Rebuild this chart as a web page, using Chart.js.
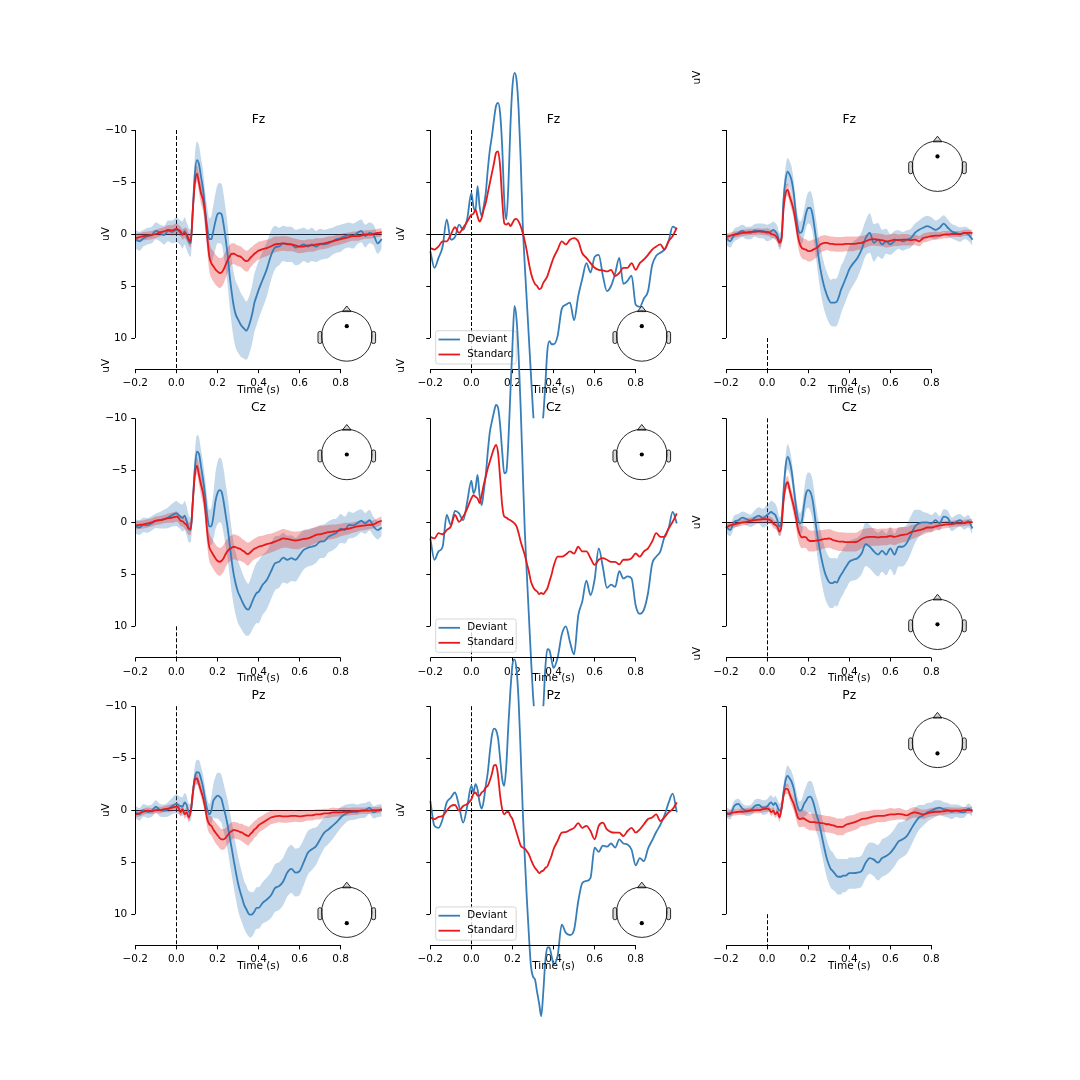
<!DOCTYPE html>
<html><head><meta charset="utf-8">
<script src="https://cdn.jsdelivr.net/npm/chart.js@4.4.0/dist/chart.umd.min.js"></script>
<style>
html,body{margin:0;padding:0;background:#fff;}
#wrap{position:relative;width:1080px;height:1080px;overflow:hidden;background:#fff;}
#wrap canvas{position:absolute;left:0;top:0;}
</style></head><body><div id="wrap"></div>
<script>
// ---------- DATA ----------
const conditions = ['Deviant', 'Standard'];
const channels = ['Fz', 'Cz', 'Pz'];
const xTicks = [-0.2, 0, 0.2, 0.4, 0.6, 0.8];
const xTickLabels = ['\u22120.2', '0.0', '0.2', '0.4', '0.6', '0.8'];
const yTicks = [-10, -5, 0, 5, 10];
const yTickLabels = ['\u221210', '\u22125', '0', '5', '10'];
const xRange = [-0.2, 1.0];
const yRange = [-10, 13];
const xLabel = 'Time (s)';
const yLabel = 'uV';

const times = [
-0.2,-0.18,-0.16,-0.14,-0.12,-0.1,-0.08,-0.06,-0.04,-0.02,
0,0.01,0.02,0.03,0.04,0.05,0.06,0.07,0.08,0.09,
0.1,0.11,0.12,0.13,0.14,0.15,0.16,0.17,0.18,0.19,
0.2,0.21,0.22,0.23,0.24,0.25,0.26,0.27,0.28,0.29,
0.3,0.31,0.32,0.33,0.34,0.35,0.36,0.37,0.38,0.39,0.4,
0.42,0.44,0.46,0.48,0.5,0.52,0.54,0.56,0.58,0.6,
0.62,0.64,0.66,0.68,0.7,0.72,0.74,0.76,0.78,0.8,
0.82,0.84,0.86,0.88,0.9,0.92,0.94,0.96,0.98,1.0];

// Fz, left column (with confidence bands)
const fzL_dev = [
0.5,0.7,0.4,0.2,0.1,-0.3,-0.1,0.1,-0.3,-0.2,
-0.4,-0.3,-0.1,0.1,-0.3,0.2,0.7,0.9,-2.3,-5.8,
-7.1,-6.7,-5.5,-4.3,-2.3,-0.7,0.5,0.5,-0.3,-1.2,
-1.9,-2.0,-1.9,-0.9,0.5,2.1,4.1,5.7,7.0,7.8,
8.2,8.6,8.9,9.1,9.3,9.0,8.4,7.6,6.6,6.0,5.4,
4.4,3.4,2.1,1.3,1.2,0.9,1.0,1.0,1.3,1.2,
1.0,1.2,1.0,1.2,1.0,1.0,0.9,0.7,0.5,0.4,
0.2,0.1,0.2,-0.1,-0.3,0.2,-0.1,0.1,0.9,0.5];
const fzL_devCI = [
0.9,0.9,0.8,0.8,0.8,0.8,0.8,0.9,1.0,1.1,
1.2,1.2,1.2,1.3,1.3,1.3,1.3,1.3,1.5,1.7,
1.8,1.8,1.8,1.8,1.8,1.9,2.0,2.2,2.5,2.7,
2.8,2.9,2.9,2.9,2.9,2.9,3.0,3.1,3.2,3.2,
3.2,3.1,3.0,2.9,2.8,2.8,2.8,2.8,2.8,2.8,2.8,
2.7,2.6,2.4,2.1,1.8,1.7,1.7,1.7,1.7,1.7,
1.6,1.6,1.6,1.5,1.5,1.4,1.4,1.3,1.3,1.3,
1.2,1.2,1.2,1.1,1.1,1.1,1.0,1.0,1.0,0.9];
const fzL_std = [
0.4,0.3,0.2,0.15,0.1,0,-0.15,-0.25,-0.4,-0.35,
-0.5,-0.4,-0.25,0.05,-0.1,0.05,0.5,0.7,-2.3,-4.9,
-5.8,-4.9,-3.9,-3.3,-2.0,0.2,2.1,2.8,3.1,3.4,
3.6,3.75,3.7,3.4,2.95,2.5,2.15,1.9,1.9,2.0,
2.1,2.15,2.3,2.5,2.6,2.55,2.3,2.1,1.9,1.75,1.6,
1.45,1.35,1.2,1.0,0.95,0.9,0.95,1.0,1.1,1.2,
1.2,1.1,1.1,1.0,0.95,0.9,0.8,0.7,0.6,0.5,
0.4,0.3,0.2,0.2,0.15,0.05,0.05,0,-0.1,-0.15];
const fzL_stdCI = [
0.4,0.4,0.4,0.4,0.4,0.4,0.4,0.4,0.45,0.5,
0.5,0.5,0.5,0.5,0.5,0.6,0.6,0.6,0.7,0.8,
0.8,0.9,1.0,1.1,1.2,1.3,1.4,1.4,1.45,1.45,
1.45,1.45,1.4,1.35,1.3,1.2,1.1,1.0,1.0,1.0,
1.0,1.0,1.0,1.0,1.0,1.0,0.95,0.9,0.9,0.85,0.85,
0.8,0.8,0.75,0.75,0.7,0.7,0.7,0.65,0.65,0.65,
0.6,0.6,0.6,0.6,0.55,0.55,0.55,0.5,0.5,0.5,
0.5,0.45,0.45,0.45,0.4,0.4,0.4,0.4,0.4,0.4];

// Fz, right column
const fzR_dev = [
0.4,0.7,0.1,-0.1,-0.3,-0.1,-0.1,-0.35,-0.3,-0.3,
-0.1,-0.15,-0.25,-0.4,-0.25,0.05,0.7,0.4,-3.3,-5.2,
-6.0,-5.7,-5.1,-3.9,-2.0,-0.6,-0.1,-0.25,-1.05,-2.0,
-2.5,-2.5,-2.0,-0.75,0.7,2.15,3.4,4.4,5.2,5.8,
6.3,6.6,6.6,6.6,6.5,6.0,5.35,4.9,4.4,3.9,3.4,
2.8,2.3,1.5,0.4,-0.1,0.85,0.55,1.0,0.7,1.0,
0.7,0.55,0.7,0.55,0.4,-0.1,-0.4,-0.6,-0.75,-0.6,
-0.4,-0.6,-1.0,-0.6,-0.25,-0.1,0.05,-0.1,0.05,0.55];
const fzR_devCI = [
0.6,0.6,0.6,0.6,0.6,0.6,0.6,0.6,0.7,0.7,
0.8,0.8,0.8,0.8,0.8,0.8,0.8,0.8,1.0,1.2,
1.3,1.3,1.3,1.2,1.1,1.1,1.1,1.2,1.3,1.4,
1.5,1.6,1.7,1.8,1.9,2.0,2.1,2.2,2.2,2.2,
2.2,2.2,2.3,2.3,2.3,2.3,2.3,2.2,2.2,2.2,2.2,
2.1,1.9,1.7,1.7,1.9,1.8,1.6,1.4,1.2,1.0,
1.0,0.9,0.9,0.9,0.9,0.9,0.9,1.0,1.0,1.0,
0.9,0.9,0.8,0.8,0.7,0.7,0.7,0.6,0.6,0.6];
const fzR_std = [
0.3,0.15,0.05,0,-0.1,-0.15,-0.2,-0.2,-0.25,-0.2,
-0.2,-0.15,0,0.05,0.15,0.4,0.85,0.55,-2.35,-3.9,
-4.25,-3.6,-3.0,-2.2,-1.05,0.2,1.0,1.35,1.45,1.5,
1.65,1.65,1.55,1.45,1.35,1.2,1.0,0.9,0.85,0.85,
0.9,0.95,0.95,1.0,1.0,1.0,1.0,1.0,0.95,0.95,0.95,
0.95,0.9,0.85,0.7,0.55,0.5,0.55,0.6,0.7,0.65,
0.55,0.6,0.55,0.55,0.6,0.55,0.7,0.4,0.3,0.2,
0.15,0.15,0.05,0.05,0,0,0,-0.1,-0.1,-0.1];
const fzR_stdCI = [
0.3,0.3,0.3,0.3,0.3,0.3,0.3,0.3,0.3,0.3,
0.35,0.35,0.35,0.35,0.35,0.4,0.4,0.45,0.5,0.6,
0.6,0.65,0.7,0.75,0.8,0.9,0.95,1.0,1.0,1.0,
1.0,1.0,1.0,0.95,0.9,0.85,0.8,0.75,0.75,0.7,
0.7,0.7,0.7,0.7,0.7,0.7,0.7,0.7,0.7,0.7,0.7,
0.7,0.65,0.65,0.6,0.6,0.6,0.6,0.6,0.6,0.6,
0.6,0.55,0.55,0.55,0.5,0.5,0.5,0.45,0.45,0.4,
0.4,0.35,0.35,0.35,0.3,0.3,0.3,0.3,0.3,0.3];

// Cz, left column
const czL_dev = [
0.4,0.5,0.25,0.3,0.1,-0.15,-0.2,-0.3,-0.45,-0.7,
-0.85,-0.7,-0.55,-0.4,-0.65,-0.15,0.6,0.75,-2.0,-5.2,
-6.8,-6.6,-5.35,-4.1,-2.6,-0.7,0.4,0.4,-0.55,-2.0,
-2.8,-3.1,-2.95,-2.0,-0.7,0.6,2.2,3.8,5.1,6.0,
6.7,7.15,7.6,8.0,8.3,8.4,8.1,7.6,7.15,6.8,6.7,
6.0,5.55,4.75,3.95,3.8,3.4,3.6,3.45,3.6,3.15,
2.65,2.45,2.35,2.2,1.85,1.8,1.4,1.2,1.0,0.6,
0.75,0.25,0.3,0.1,-0.15,0.1,-0.2,0.4,0.75,0.5];
const czL_devCI = [
0.7,0.7,0.7,0.7,0.7,0.7,0.8,0.9,1.0,1.1,
1.2,1.2,1.2,1.3,1.4,1.4,1.3,1.2,1.3,1.5,
1.6,1.6,1.6,1.6,1.6,1.6,1.6,1.8,2.2,2.7,
3.0,3.1,3.1,3.1,3.0,3.0,3.0,3.0,3.0,3.0,
3.0,2.9,2.8,2.7,2.6,2.5,2.6,2.7,2.8,2.9,3.0,
2.9,2.8,2.7,2.6,2.5,2.4,2.3,2.2,2.1,2.0,
1.9,1.8,1.8,1.7,1.6,1.6,1.5,1.5,1.4,1.4,
1.3,1.3,1.2,1.2,1.1,1.0,1.0,0.9,0.9,0.8];
const czL_std = [
0.3,0.25,0.2,0.1,0,-0.15,-0.2,-0.3,-0.4,-0.45,
-0.55,-0.45,-0.15,-0.1,0.1,0.25,0.6,0.6,-2.0,-4.55,
-5.45,-4.55,-3.6,-2.8,-1.35,0.9,2.35,2.8,3.15,3.45,
3.7,3.8,3.7,3.45,3.05,2.75,2.55,2.45,2.35,2.4,
2.5,2.55,2.7,2.8,3.0,3.05,2.9,2.7,2.55,2.45,2.35,
2.25,2.1,2.0,1.85,1.7,1.55,1.6,1.7,1.75,1.7,
1.6,1.55,1.4,1.2,1.15,1.05,0.95,0.9,0.85,0.75,
0.65,0.6,0.5,0.4,0.35,0.3,0.25,0.2,0,-0.15];
const czL_stdCI = [
0.4,0.4,0.4,0.4,0.4,0.4,0.4,0.4,0.45,0.5,
0.5,0.5,0.5,0.5,0.5,0.6,0.6,0.6,0.7,0.8,
0.8,0.9,1.0,1.1,1.2,1.3,1.35,1.35,1.35,1.35,
1.35,1.35,1.3,1.3,1.25,1.2,1.2,1.2,1.2,1.2,
1.2,1.15,1.1,1.1,1.1,1.1,1.05,1.0,1.0,1.0,1.0,
0.95,0.95,0.9,0.9,0.9,0.9,0.85,0.85,0.85,0.85,
0.8,0.8,0.8,0.8,0.8,0.75,0.7,0.7,0.65,0.6,
0.6,0.55,0.5,0.5,0.45,0.45,0.4,0.4,0.4,0.4];

// Cz, right column
const czR_dev = [
0.4,0.75,-0.05,-0.2,-0.45,-0.3,-0.15,-0.45,-0.65,-0.4,
-0.7,-0.85,-1.0,-0.85,-0.7,-0.2,0.4,-0.05,-2.95,-5.35,
-6.3,-5.85,-4.85,-3.25,-1.65,-0.4,0.1,-0.2,-1.65,-2.8,
-3.1,-2.95,-2.3,-1.0,0.6,1.85,3.0,3.95,4.75,5.3,
5.7,5.85,5.85,5.7,5.8,5.4,5.05,4.75,4.4,4.1,3.8,
3.6,3.45,3.0,2.1,2.35,2.8,3.1,2.75,3.1,2.5,
3.1,2.35,2.35,2.0,1.2,0.4,0.1,0,0,0.1,
-0.2,0.1,-0.55,-0.4,0.2,-0.05,-0.2,0.1,-0.1,0.6];
const czR_devCI = [
0.6,0.6,0.6,0.6,0.6,0.6,0.6,0.7,0.8,0.9,
1.0,1.0,1.1,1.1,1.1,1.1,0.9,0.8,0.9,1.0,
1.2,1.2,1.1,1.0,1.0,1.0,1.0,1.2,1.4,1.6,
1.7,1.8,1.9,1.9,2.0,2.1,2.2,2.3,2.4,2.4,
2.4,2.4,2.4,2.3,2.3,2.3,2.2,2.2,2.1,2.1,2.0,
2.0,2.0,2.0,2.1,2.1,2.1,2.1,2.0,2.0,2.0,
2.0,1.9,1.9,1.8,1.8,1.6,1.3,1.0,0.9,0.8,
0.8,0.7,0.7,0.7,0.65,0.65,0.6,0.6,0.6,0.6];
const czR_std = [
0.5,0.3,0.2,0.1,0,-0.05,-0.15,-0.2,-0.25,-0.3,
-0.3,-0.25,-0.15,0.1,0.25,0.4,0.9,0.4,-2.0,-3.45,
-3.85,-3.1,-2.3,-1.5,-0.55,0.6,1.2,1.45,1.4,1.45,
1.7,1.8,1.8,1.8,1.75,1.75,1.7,1.65,1.6,1.6,
1.55,1.6,1.7,1.75,1.8,1.85,1.85,1.85,1.9,1.9,1.9,
1.9,1.85,1.6,1.45,1.4,1.4,1.45,1.4,1.4,1.3,
1.4,1.3,1.2,1.15,0.95,0.85,0.75,0.65,0.5,0.5,
0.4,0.3,0.25,0.2,0.15,0.1,0.1,0.05,0,-0.05];
const czR_stdCI = [
0.3,0.3,0.3,0.3,0.3,0.3,0.3,0.3,0.3,0.35,
0.35,0.35,0.35,0.4,0.4,0.4,0.45,0.5,0.55,0.6,
0.6,0.65,0.7,0.8,0.9,1.0,1.05,1.05,1.05,1.05,
1.05,1.0,1.0,1.0,0.95,0.95,0.95,0.9,0.9,0.9,
0.9,0.9,0.9,0.9,0.9,0.9,0.9,0.9,0.9,0.9,0.9,
0.9,0.9,0.9,0.85,0.85,0.85,0.8,0.8,0.8,0.8,
0.8,0.75,0.75,0.7,0.7,0.65,0.6,0.55,0.5,0.45,
0.4,0.4,0.35,0.35,0.3,0.3,0.3,0.3,0.3,0.3];

// Pz, left column
const pzL_dev = [
0.2,0.4,0,0.15,0.05,-0.35,0,0.05,-0.1,-0.4,
-0.6,-0.5,-0.4,-0.35,-0.75,-0.5,0.15,0.2,-1.55,-3.15,
-3.65,-3.6,-3.0,-2.2,-1.05,-0.1,0.4,0.05,-0.9,-1.2,
-1.4,-1.3,-1.05,-0.25,0.55,1.5,2.65,3.75,4.9,6.0,
7.0,7.8,8.45,9.1,9.5,9.9,10.05,10.0,9.75,9.4,9.4,
8.9,8.6,8.2,7.5,7.3,6.85,6.0,5.65,6.0,5.85,
5.0,4.1,3.75,3.45,2.8,2.15,1.85,1.5,1.15,0.7,
0.4,0.2,0.15,0.15,0.05,0,-0.25,0.2,0.05,0];
const pzL_devCI = [
0.6,0.6,0.6,0.6,0.6,0.6,0.6,0.6,0.7,0.8,
0.9,0.9,0.9,0.9,0.9,0.9,0.8,0.8,0.9,1.1,
1.2,1.2,1.2,1.2,1.1,1.0,1.0,1.3,1.6,2.0,
2.2,2.3,2.3,2.3,2.3,2.4,2.5,2.6,2.6,2.6,
2.6,2.5,2.4,2.3,2.3,2.2,2.2,2.1,2.0,2.0,2.0,
2.0,2.1,2.2,2.3,2.3,2.3,2.3,2.3,2.3,2.3,
2.2,2.1,2.0,1.8,1.6,1.5,1.4,1.3,1.1,1.0,
0.9,0.8,0.8,0.7,0.7,0.7,0.6,0.6,0.6,0.6];
const pzL_std = [
0.4,0.3,0.15,0.05,0.1,0,0,-0.1,-0.15,-0.25,
-0.35,-0.25,0.2,-0.1,0.4,0.2,0.7,0.05,-1.7,-2.95,
-3.05,-2.5,-1.85,-1.2,-0.25,0.85,1.35,1.5,1.85,2.15,
2.4,2.65,2.8,2.8,2.65,2.4,2.15,2.0,1.9,1.95,
2.0,2.1,2.15,2.3,2.4,2.5,2.3,2.1,1.85,1.7,1.45,
1.2,0.95,0.7,0.6,0.55,0.6,0.6,0.55,0.55,0.6,
0.55,0.5,0.5,0.4,0.4,0.3,0.3,0.2,0.2,0.2,
0.15,0.15,0.1,0.1,0.05,0.05,0.05,0,0,-0.1];
const pzL_stdCI = [
0.3,0.3,0.3,0.3,0.3,0.3,0.3,0.3,0.35,0.35,
0.4,0.4,0.4,0.4,0.4,0.45,0.45,0.45,0.5,0.5,
0.5,0.55,0.6,0.65,0.7,0.8,0.85,0.9,0.95,1.0,
1.0,1.0,1.0,1.0,0.95,0.9,0.85,0.85,0.8,0.8,
0.8,0.8,0.85,0.85,0.9,0.9,0.85,0.85,0.8,0.8,0.75,
0.7,0.7,0.65,0.65,0.6,0.6,0.6,0.6,0.55,0.55,
0.55,0.5,0.5,0.5,0.5,0.45,0.45,0.45,0.4,0.4,
0.4,0.35,0.35,0.35,0.3,0.3,0.3,0.3,0.3,0.3];

// Pz, right column
const pzR_dev = [
0.2,0.4,-0.4,-0.6,-0.15,0.05,0,-0.4,-0.5,-0.25,
-0.35,-0.6,-0.75,-0.5,-0.7,-0.35,0.05,-0.15,-1.7,-2.85,
-3.3,-3.05,-2.7,-2.05,-1.05,-0.25,0.05,-0.1,-0.6,-0.9,
-1.25,-1.3,-1.05,-0.4,0.4,1.0,1.85,2.8,3.75,4.6,
5.2,5.65,5.85,6.1,6.35,6.4,6.4,6.3,6.3,6.2,6.05,
6.05,6.0,5.85,5.05,4.6,4.75,5.05,4.6,4.4,4.1,
3.6,3.0,2.8,2.5,1.85,1.2,0.7,0.5,0.2,0.05,
-0.15,-0.25,-0.1,0,0.15,0.05,0.15,0.2,-0.15,0.15];
const pzR_devCI = [
0.5,0.5,0.5,0.5,0.5,0.5,0.5,0.6,0.6,0.7,
0.7,0.7,0.7,0.7,0.7,0.7,0.7,0.7,0.8,0.9,
1.0,1.0,1.0,1.0,1.0,0.9,0.9,1.0,1.2,1.4,
1.5,1.5,1.6,1.6,1.7,1.7,1.8,1.8,1.8,1.8,
1.8,1.8,1.8,1.7,1.7,1.7,1.7,1.6,1.6,1.5,1.5,
1.5,1.5,1.5,1.5,1.5,1.6,1.7,1.8,1.8,1.8,
1.8,1.8,1.7,1.7,1.6,1.4,1.2,1.0,0.9,0.8,
0.8,0.7,0.7,0.7,0.7,0.6,0.6,0.5,0.5,0.5];
const pzR_std = [
0.4,0.3,0.2,0.15,0.15,0.1,0.05,0,0,-0.1,
-0.15,-0.1,0.2,0.05,0.4,0.15,0.7,-0.1,-1.4,-2.05,
-2.05,-1.55,-1.05,-0.6,0.05,0.7,0.85,0.8,0.8,0.95,
1.05,1.15,1.15,1.15,1.2,1.2,1.25,1.25,1.3,1.35,
1.35,1.4,1.45,1.5,1.6,1.6,1.6,1.6,1.45,1.35,1.3,
1.2,1.05,0.85,0.8,0.7,0.6,0.55,0.55,0.5,0.4,
0.4,0.35,0.4,0.5,0.3,0.2,0.3,0.4,0.3,0.2,
0.15,0.15,0.1,0.05,0.05,0.05,0.05,0,0,0];
const pzR_stdCI = [
0.3,0.3,0.3,0.3,0.3,0.3,0.3,0.3,0.3,0.3,
0.3,0.3,0.35,0.35,0.35,0.4,0.4,0.4,0.45,0.5,
0.5,0.55,0.6,0.65,0.7,0.75,0.8,0.8,0.8,0.8,
0.8,0.8,0.8,0.8,0.8,0.8,0.8,0.8,0.8,0.8,
0.8,0.8,0.8,0.8,0.8,0.8,0.8,0.8,0.8,0.8,0.8,
0.75,0.75,0.7,0.7,0.65,0.65,0.6,0.6,0.6,0.6,
0.55,0.55,0.5,0.5,0.5,0.5,0.45,0.45,0.4,0.4,
0.4,0.35,0.35,0.35,0.3,0.3,0.3,0.3,0.3,0.3];

// Middle column (no bands, unclipped)
const fzM_dev = [
1.65,3.25,2.3,1.2,-1.4,0.55,0.3,-0.9,-0.4,-1.5,
-3.95,-2.65,-2.2,-4.6,-2.65,-1.7,-2.65,-3.95,-6.2,-8.1,
-9.4,-11.0,-12.3,-12.6,-11.6,-8.4,-3.3,-1.4,-4.6,-10.35,
-14.2,-15.5,-14.8,-12.0,-7.15,-1.0,3.0,6.5,10.0,13.5,
17.0,19.5,20.5,20.5,19.5,17.5,14.5,11.2,10.3,10.6,10.6,
9.8,7.2,6.8,6.6,8.3,6.0,4.3,2.8,3.7,2.2,
2.0,4.0,5.5,5.0,3.8,2.3,4.8,4.5,4.0,6.8,
7.0,6.2,5.5,3.0,2.1,1.8,1.5,0.7,-0.7,-0.5];
const fzM_std = [
1.35,1.5,1.2,0.7,0.7,0.05,-0.65,-0.1,-0.6,-1.2,
-1.85,-1.95,-2.35,-1.7,-1.2,-1.55,-2.35,-3.0,-3.95,-4.9,
-5.85,-6.8,-7.8,-7.95,-6.5,-3.3,-1.05,-0.9,-1.05,-0.75,
-1.05,-1.4,-1.45,-1.2,-0.75,-0.1,0.7,1.65,2.8,3.75,
4.4,4.8,5.0,5.3,5.2,4.7,4.4,4.05,3.45,2.85,2.3,
1.5,0.7,1.0,0.55,0.4,0.7,1.85,2.3,2.8,3.25,
3.45,3.5,3.6,3.45,4.05,3.75,3.25,3.25,2.8,3.45,
2.8,2.45,2.0,1.5,1.2,1.0,1.5,0.7,0.2,-0.6];
const czM_dev = [
1.55,3.6,2.8,2.35,-0.7,0.25,-1.1,-0.85,-0.2,-2.0,
-4.0,-2.8,-3.25,-4.55,-2.6,-1.65,-2.95,-4.55,-6.8,-8.7,
-9.7,-10.6,-11.3,-11.0,-9.35,-6.8,-4.7,-4.85,-7.75,-12.5,
-17.0,-20.8,-19.5,-16.0,-11.0,-5.0,0.8,5.0,9.0,13.0,
16.6,19.0,20.5,20.5,19.5,17.8,14.0,12.2,12.3,13.2,14.0,
13.0,10.8,10.0,11.5,12.7,9.0,7.6,5.6,7.0,5.5,
2.5,4.3,6.3,6.0,6.2,4.7,5.4,5.2,5.4,8.0,
8.8,8.4,6.8,4.0,3.3,2.8,1.4,0.6,-1.0,0.1];
const czM_std = [
1.4,1.55,1.05,1.15,0.75,0.4,-0.7,-0.05,-0.55,-1.35,
-2.3,-2.6,-2.45,-2.3,-1.85,-2.6,-3.6,-4.4,-5.2,-5.85,
-6.5,-7.1,-7.45,-6.65,-4.25,-1.65,-0.55,-0.45,-0.3,-0.2,
-0.05,0.1,0.4,1.05,1.85,2.5,3.15,3.95,4.75,5.7,
6.2,6.5,6.65,6.9,6.8,6.9,6.65,6.35,5.7,5.05,4.25,
3.3,3.3,3.1,2.8,3.0,2.35,2.8,2.8,3.45,4.1,
3.6,3.45,3.6,3.8,3.8,4.05,3.6,3.6,3.45,3.0,
3.3,2.8,2.5,1.85,1.05,1.4,1.4,0.6,-0.05,-0.85];
const pzM_dev = [
-0.9,1.5,1.7,0.85,-0.75,-1.2,-1.7,-0.4,1.2,-0.4,
-2.35,-1.7,-2.5,-2.0,-0.75,-0.15,-0.9,-2.35,-3.65,-5.6,
-7.2,-7.85,-7.7,-6.9,-4.95,-3.0,-2.35,-4.3,-8.15,-11.5,
-14.0,-14.5,-13.5,-10.5,-5.5,0,4.5,8.5,12.0,15.0,
16.0,16.3,17.5,18.6,19.8,17.5,14.5,13.2,13.2,14.0,14.8,
14.0,11.0,11.8,12.0,11.5,8.8,7.0,6.8,6.5,3.6,
4.0,3.4,3.5,3.2,3.6,2.8,3.2,3.3,3.8,5.3,
4.6,4.9,3.7,2.9,2.1,1.4,0.5,-0.7,-1.6,0.2];
const pzM_std = [
0.7,0.85,0.65,0.55,0.05,-0.4,-0.5,0.05,-0.4,-0.6,
-1.05,-1.55,-1.7,-1.4,-1.4,-1.7,-1.85,-2.2,-2.35,-2.85,
-3.5,-4.3,-4.35,-3.3,-1.4,-0.1,0.4,0.2,0.15,0.55,
0.85,1.5,2.15,2.8,3.4,3.6,3.7,3.95,4.25,4.75,
5.2,5.55,5.8,6.05,5.9,5.8,5.55,5.4,4.9,4.4,3.75,
2.95,2.15,2.1,1.9,1.7,1.25,1.7,1.5,2.0,2.8,
1.5,1.2,1.85,2.1,2.15,2.15,2.5,2.0,1.7,2.15,
1.85,1.35,0.85,0.7,0.4,1.05,0.7,0.2,-0.1,-0.75];

// ---------- LAYOUT / STYLE ----------
const BLUE = '#377eb8', RED = '#e41a1c';
const BLUE_A = 'rgba(55,126,184,0.3)', RED_A = 'rgba(228,26,28,0.3)';
const FONT = "'DejaVu Sans', 'Liberation Sans', sans-serif";
const colLeft = [135.3, 430.3, 726.0];
const rowTop = [130.0, 418.3, 706.2];
const pxPerSec = 205.4, pxPerUV = 10.4;
const dotOffset = [-9.8, 0, 11];
const Y_AXIS_W = 40, X_AXIS_H = 30;

const panels = [
  {row:0,col:0,dev:fzL_dev,devCI:fzL_devCI,std:fzL_std,stdCI:fzL_stdCI,normal:true},
  {row:0,col:1,dev:fzM_dev,std:fzM_std,normal:true,legend:true},
  {row:0,col:2,dev:fzR_dev,devCI:fzR_devCI,std:fzR_std,stdCI:fzR_stdCI,normal:false},
  {row:1,col:0,dev:czL_dev,devCI:czL_devCI,std:czL_std,stdCI:czL_stdCI,normal:false},
  {row:1,col:1,dev:czM_dev,std:czM_std,normal:false,legend:true},
  {row:1,col:2,dev:czR_dev,devCI:czR_devCI,std:czR_std,stdCI:czR_stdCI,normal:true},
  {row:2,col:0,dev:pzL_dev,devCI:pzL_devCI,std:pzL_std,stdCI:pzL_stdCI,normal:true},
  {row:2,col:1,dev:pzM_dev,std:pzM_std,normal:true,legend:true},
  {row:2,col:2,dev:pzR_dev,devCI:pzR_devCI,std:pzR_std,stdCI:pzR_stdCI,normal:false}
];

function rrect(ctx, x, y, w, h, r) {
  ctx.beginPath();
  ctx.moveTo(x + r, y);
  ctx.arcTo(x + w, y, x + w, y + h, r);
  ctx.arcTo(x + w, y + h, x, y + h, r);
  ctx.arcTo(x, y + h, x, y, r);
  ctx.arcTo(x, y, x + w, y, r);
  ctx.closePath();
}
function al(v) { return Math.round(v - 0.5) + 0.5; }

function drawHead(ctx, cx, cy, dy) {
  const r = 25.2;
  ctx.save();
  ctx.lineWidth = 0.9;
  ctx.strokeStyle = '#111';
  ctx.fillStyle = '#d9d9d9';
  rrect(ctx, cx - r - 3.6, cy - 4.5, 4, 12, 1.8); ctx.fill(); ctx.stroke();
  rrect(ctx, cx + r - 0.4, cy - 4.5, 4, 12, 1.8); ctx.fill(); ctx.stroke();
  ctx.beginPath();
  ctx.moveTo(cx - 4.4, cy - r + 0.8);
  ctx.lineTo(cx, cy - r - 4.8);
  ctx.lineTo(cx + 4.4, cy - r + 0.8);
  ctx.closePath();
  ctx.fillStyle = '#d9d9d9'; ctx.fill(); ctx.stroke();
  ctx.beginPath();
  ctx.arc(cx, cy, r, 0, Math.PI * 2);
  ctx.stroke();
  ctx.beginPath();
  ctx.arc(cx, cy + dy, 2.1, 0, Math.PI * 2);
  ctx.fillStyle = '#000'; ctx.fill();
  ctx.restore();
}

const decor = {
  id: 'decor',
  beforeDraw(chart) {
    const {ctx, chartArea: a} = chart;
    ctx.save();
    ctx.fillStyle = '#fff';
    ctx.fillRect(a.left, a.top, a.right - a.left, a.bottom - a.top);
    ctx.restore();
  },
  beforeDatasetsDraw(chart, args, o) {
    const {ctx, chartArea: a, scales: {x, y}} = chart;
    ctx.save();
    ctx.strokeStyle = '#000';
    ctx.lineWidth = 1;
    if (o.normal) {
      const y0 = al(y.getPixelForValue(0));
      ctx.beginPath(); ctx.moveTo(a.left, y0); ctx.lineTo(a.right, y0); ctx.stroke();
    }
    const vx = al(x.getPixelForValue(0));
    const vTop = o.normal ? a.top : y.getPixelForValue(yTicks[yTicks.length - 1]);
    ctx.setLineDash([4, 2]);
    ctx.beginPath(); ctx.moveTo(vx, vTop); ctx.lineTo(vx, a.bottom); ctx.stroke();
    ctx.restore();
  },
  afterDatasetsDraw(chart, args, o) {
    const {ctx, chartArea: a, scales: {x, y}} = chart;
    ctx.save();
    ctx.strokeStyle = '#000';
    ctx.lineWidth = 1;
    const lx = al(a.left), by = al(a.bottom);
    ctx.beginPath();
    ctx.moveTo(lx, y.getPixelForValue(yTicks[0]));
    ctx.lineTo(lx, y.getPixelForValue(yTicks[yTicks.length - 1]));
    ctx.stroke();
    ctx.beginPath();
    ctx.moveTo(x.getPixelForValue(xTicks[0]), by);
    ctx.lineTo(x.getPixelForValue(xTicks[xTicks.length - 1]), by);
    ctx.stroke();
    ctx.fillStyle = '#000';
    ctx.font = '12.3px ' + FONT;
    ctx.textAlign = 'center';
    ctx.textBaseline = 'middle';
    ctx.fillText(o.title, (a.left + a.right) / 2, a.top - 10);
    ctx.font = '10.5px ' + FONT;
    ctx.fillText(xLabel, (a.left + a.right) / 2, a.bottom + 21);
    const ly = o.normal ? y.getPixelForValue(0) : a.top - 52.5;
    ctx.save();
    ctx.translate(a.left - 28.8, ly);
    ctx.rotate(-Math.PI / 2);
    ctx.fillText(yLabel, 0, 0);
    ctx.restore();
    const hx = a.right - 35;
    const hy = o.normal ? a.bottom - 33.2 : a.top + 36.2;
    drawHead(ctx, hx, hy, o.dot);
    if (o.legend) {
      const bw = 80.5, bh = 33.3;
      const bx = a.left + 5.4, byy = a.bottom - 5.2 - bh;
      ctx.globalAlpha = 0.8;
      rrect(ctx, bx, byy, bw, bh, 2.5);
      ctx.fillStyle = '#fff'; ctx.fill();
      ctx.strokeStyle = '#cccccc'; ctx.lineWidth = 1; ctx.stroke();
      ctx.globalAlpha = 1;
      const cols = [BLUE, RED];
      ctx.font = '10.3px ' + FONT;
      ctx.textAlign = 'left';
      ctx.textBaseline = 'middle';
      conditions.forEach((c, i) => {
        const yy = byy + 8.8 + i * 15;
        ctx.strokeStyle = cols[i]; ctx.lineWidth = 1.8;
        ctx.beginPath(); ctx.moveTo(bx + 2.8, yy); ctx.lineTo(bx + 24.3, yy); ctx.stroke();
        ctx.fillStyle = '#000';
        ctx.fillText(c, bx + 31.6, yy);
      });
    }
    ctx.restore();
  }
};

function pts(vals) { return times.map((t, i) => ({x: t, y: vals[i]})); }
function band(vals, ci, sign) { return times.map((t, i) => ({x: t, y: vals[i] + sign * ci[i]})); }

const wrap = document.getElementById('wrap');
panels.forEach((p, k) => {
  const cv = document.createElement('canvas');
  cv.width = 1080; cv.height = 1080;
  cv.style.width = '1080px'; cv.style.height = '1080px';
  cv.style.zIndex = String(k + 1);
  wrap.appendChild(cv);
  const L = colLeft[p.col], T = rowTop[p.row];
  const W = (xRange[1] - xRange[0]) * pxPerSec;
  const H = (yRange[1] - yRange[0]) * pxPerUV;
  const common = {pointRadius: 0, pointHoverRadius: 0, clip: false, cubicInterpolationMode: 'monotone'};
  const ds = [];
  ds.push(Object.assign({label: conditions[1], data: pts(p.std), borderColor: RED, borderWidth: 1.8, fill: false, order: 0}, common));
  ds.push(Object.assign({label: conditions[0], data: pts(p.dev), borderColor: BLUE, borderWidth: 1.8, fill: false, order: 1}, common));
  if (p.devCI) {
    ds.push(Object.assign({label: conditions[1] + ' lo', data: band(p.std, p.stdCI, -1), borderColor: 'rgba(0,0,0,0)', borderWidth: 0, fill: false, order: 2}, common));
    ds.push(Object.assign({label: conditions[1] + ' hi', data: band(p.std, p.stdCI, 1), borderColor: 'rgba(0,0,0,0)', borderWidth: 0, backgroundColor: RED_A, fill: '-1', order: 2}, common));
    ds.push(Object.assign({label: conditions[0] + ' lo', data: band(p.dev, p.devCI, -1), borderColor: 'rgba(0,0,0,0)', borderWidth: 0, fill: false, order: 3}, common));
    ds.push(Object.assign({label: conditions[0] + ' hi', data: band(p.dev, p.devCI, 1), borderColor: 'rgba(0,0,0,0)', borderWidth: 0, backgroundColor: BLUE_A, fill: '-1', order: 3}, common));
  }
  const tickFont = {family: FONT, size: 10.5};
  const grid = {display: true, drawOnChartArea: false, drawTicks: true, tickLength: 4, tickColor: '#000', tickWidth: 1};
  new Chart(cv.getContext('2d'), {
    type: 'line',
    data: {datasets: ds},
    options: {
      responsive: false,
      animation: false,
      devicePixelRatio: 1,
      events: [],
      layout: {autoPadding: false, padding: {left: L - Y_AXIS_W, top: T, right: 1080 - L - W, bottom: 1080 - T - H - X_AXIS_H}},
      plugins: {
        legend: {display: false},
        tooltip: {enabled: false},
        decor: {title: channels[p.row], normal: p.normal, legend: !!p.legend, dot: dotOffset[p.row]}
      },
      scales: {
        x: {
          type: 'linear', min: xRange[0], max: xRange[1], bounds: 'data',
          afterFit: s => { s.height = X_AXIS_H; },
          afterBuildTicks: s => { s.ticks = xTicks.map(v => ({value: v})); },
          ticks: {callback: (v, i) => xTickLabels[i], font: tickFont, color: '#000', padding: 4, maxRotation: 0, minRotation: 0, autoSkip: false},
          grid: grid, border: {display: false}
        },
        y: {
          type: 'linear', reverse: true, min: yRange[0], max: yRange[1], bounds: 'data',
          afterFit: s => { s.width = Y_AXIS_W; },
          afterBuildTicks: s => { s.ticks = yTicks.map(v => ({value: v})); },
          ticks: {callback: (v, i) => (p.col === 0 ? yTickLabels[i] : ''), font: tickFont, color: '#000', padding: 4, autoSkip: false},
          grid: grid, border: {display: false}
        }
      }
    },
    plugins: [decor]
  });
});
</script>
</body></html>
